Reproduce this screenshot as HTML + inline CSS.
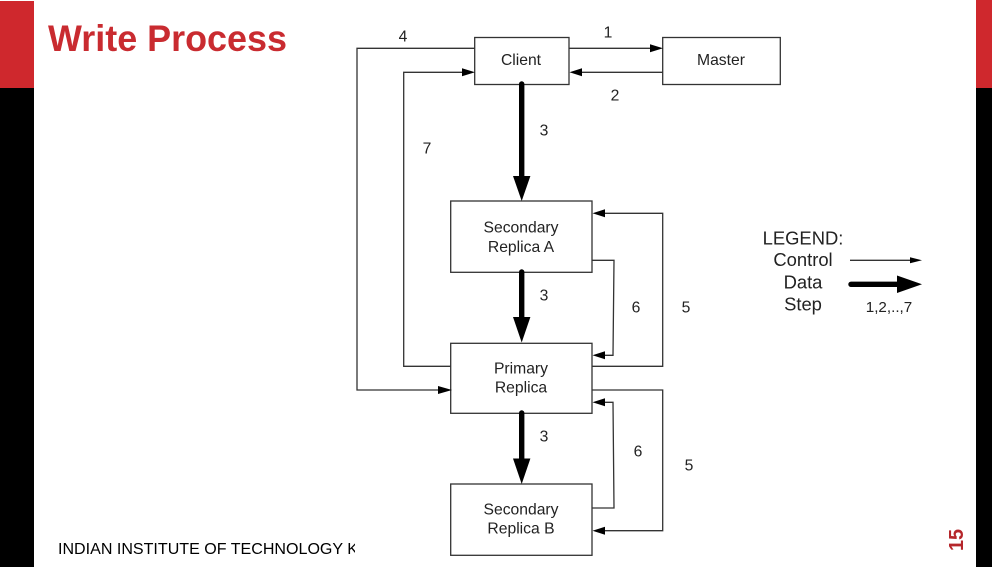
<!DOCTYPE html>
<html>
<head>
<meta charset="utf-8">
<style>
html,body{margin:0;padding:0;background:#fff;width:992px;height:567px;overflow:hidden}
svg{display:block}
text{font-family:"Liberation Sans",sans-serif;fill:#222}
</style>
</head>
<body>
<svg width="992" height="567" viewBox="0 0 992 567" xmlns="http://www.w3.org/2000/svg">
<defs><clipPath id="c"><rect x="0" y="530" width="355" height="37"/></clipPath></defs>
<rect width="992" height="567" fill="#fff"/>
<rect x="0" y="1" width="34" height="87" fill="#CF282D"/>
<rect x="0" y="88" width="34" height="479" fill="#000"/>
<rect x="976" y="0" width="16" height="88" fill="#CF282D"/>
<rect x="976" y="88" width="16" height="479" fill="#000"/>
<text x="48" y="51" font-size="37.5" font-weight="700" style="fill:#C92B30" textLength="239" lengthAdjust="spacingAndGlyphs">Write Process</text>
<text x="58" y="554" font-size="15.5" style="fill:#000" clip-path="url(#c)" textLength="300" lengthAdjust="spacingAndGlyphs">INDIAN INSTITUTE OF TECHNOLOGY K</text>
<text transform="translate(963,551) rotate(-90)" font-size="20" font-weight="700" style="fill:#B5262B" textLength="22" lengthAdjust="spacingAndGlyphs">15</text>

<g fill="none" stroke="#333" stroke-width="1.3">
<rect x="474.7" y="37.5" width="94.3" height="47"/>
<rect x="662.7" y="37.5" width="117.6" height="47"/>
<rect x="450.7" y="201" width="141.3" height="71.3"/>
<rect x="450.7" y="343.3" width="141.3" height="70"/>
<rect x="450.7" y="484" width="141.3" height="71.3"/>
<path d="M474.7 48.3H357V390H440"/>
<path d="M451 366.3H403.7V72.3H464"/>
<path d="M569 48.3H652"/>
<path d="M662.7 72.3H580"/>
<path d="M592 366.3H662.7V213.3H603"/>
<path d="M592 260.3H614L613 355.3H603"/>
<path d="M592 390H662.7V530.7H603"/>
<path d="M592 508H614L613 402.3H603"/>
<path d="M850 260.3H912"/>
</g>
<g fill="#000">
<path d="M452 390L438 386V394Z"/>
<path d="M475 72.3L462 68.3V76.3Z"/>
<path d="M663 48.3L650 44.3V52.3Z"/>
<path d="M569.5 72.3L582 68.3V76.3Z"/>
<path d="M592.5 213.3L605 209.3V217.3Z"/>
<path d="M592.5 355.3L605 351.3V359.3Z"/>
<path d="M592.5 402.3L605 398.3V406.3Z"/>
<path d="M592.5 530.7L605 526.7V534.7Z"/>
<path d="M922 260.3L910 257.3V263.3Z"/>
<path d="M922 284.3L897 275.5V293Z"/>
<path d="M521.7 201L513 176H530.4Z"/>
<path d="M521.7 342.5L513 317H530.4Z"/>
<path d="M521.7 484L513 458.5H530.4Z"/>
</g>
<g stroke="#000" stroke-width="5.4" stroke-linecap="round" fill="none">
<path d="M521.7 84V178"/>
<path d="M521.7 272V319"/>
<path d="M521.7 413V460"/>
<path d="M851 284.3H899"/>
</g>

<g font-size="15.7" text-anchor="middle">
<text x="521" y="65">Client</text>
<text x="721" y="65">Master</text>
<text x="521" y="232.5">Secondary</text>
<text x="521" y="252">Replica A</text>
<text x="521" y="373.5">Primary</text>
<text x="521" y="392.5">Replica</text>
<text x="521" y="514.5">Secondary</text>
<text x="521" y="533.5">Replica B</text>
<text x="403" y="41.5">4</text>
<text x="608" y="37.5">1</text>
<text x="615" y="100.5">2</text>
<text x="544" y="135.5">3</text>
<text x="427" y="153.5">7</text>
<text x="544" y="300.5">3</text>
<text x="636" y="312.5">6</text>
<text x="686" y="312.5">5</text>
<text x="544" y="441.5">3</text>
<text x="638" y="456.5">6</text>
<text x="689" y="470.5">5</text>
</g>
<g font-size="18.4" text-anchor="middle">
<text x="803" y="244.5">LEGEND:</text>
<text x="803" y="266">Control</text>
<text x="803" y="288.5">Data</text>
<text x="803" y="310.5">Step</text>
</g>
<text x="889" y="312" font-size="15.2" text-anchor="middle">1,2,..,7</text>
</svg>
</body>
</html>
